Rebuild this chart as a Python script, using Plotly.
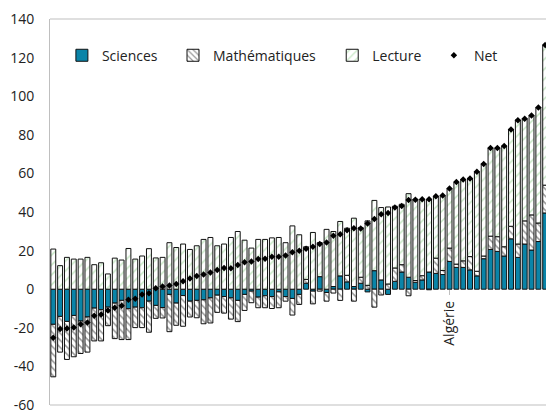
"""
Barres empilées (Sciences / Mathématiques / Lecture) + point Net, 73 pays.
"""

import plotly.graph_objects as go

# --- données ---------------------------------------------------------------
pays = list(range(1, 74))

sciences = [
    -18.2, -14.1, -16.7, -13.6, -16.5, -14.4, -9.8, -10.6, -9.3, -7.2,
    -5.8, -10.1, -9.3, -9.6, -6.2, -8.4, -9.5, -2.7, -7.2, -3.3,
    -6.2, -5.8, -5.5, -4.5, -3.1, -3.8, -4.5, -5.8, -2.7, -1.0,
    -4.1, -3.4, -3.8, -1.4, -3.8, -4.8, -2.7, 3.1, -1.0, 6.5,
    -1.7, 1.4, 6.9, 3.8, 1.4, 3.1, -1.4, 9.6, 4.8, -2.7,
    4.1, 8.9, 6.2, 3.6, 4.8, 8.9, 8.2, 7.6, 14.4, 11.3,
    11.3, 10.0, 6.9, 15.8, 20.6, 19.6, 17.2, 26.1, 16.5, 23.4,
    20.3, 24.7, 39.5,
]
mathematiques = [
    -27.2, -18.5, -19.7, -21.4, -16.8, -18.2, -17.0, -16.2, -9.6, -18.4,
    -20.3, -16.0, -10.6, -10.3, -16.1, -6.7, -5.4, -19.3, -11.5, -15.9,
    -8.2, -9.0, -12.4, -13.0, -8.9, -8.6, -11.0, -11.0, -8.3, -6.0,
    -5.5, -6.2, -6.2, -8.2, -2.4, -8.6, -5.2, 2.0, -6.6, -1.0,
    -4.5, -2.0, -5.8, 3.4, -6.2, 3.1, 2.0, -9.3, -3.0, 2.7,
    6.9, 3.8, -3.4, 0.9, 2.2, -0.3, 7.9, 2.1, 6.9, 1.7,
    3.4, 6.9, 2.4, 1.4, 6.9, 7.6, 4.8, 6.5, 6.9, 12.0,
    18.2, 9.6, 14.4,
]
lecture = [
    20.8, 12.2, 16.5, 15.6, 15.6, 16.5, 12.7, 13.7, 7.9, 16.1,
    15.1, 21.1, 15.6, 17.2, 21.0, 16.2, 16.5, 24.1, 21.6, 23.4,
    20.6, 22.5, 25.8, 26.8, 22.5, 23.4, 26.8, 29.9, 25.4, 21.3,
    25.8, 25.8, 26.6, 26.8, 24.1, 32.8, 28.2, 16.9, 29.4, 17.7,
    31.0, 28.5, 28.2, 24.4, 35.4, 25.8, 33.4, 36.4, 37.5, 39.9,
    32.0, 31.3, 43.3, 42.1, 39.5, 37.6, 32.0, 38.8, 30.9, 42.4,
    42.1, 40.5, 51.5, 47.8, 45.7, 46.0, 52.2, 50.2, 64.3, 52.9,
    51.5, 59.8, 72.5,
]
net = [
    -25.1, -20.6, -20.4, -19.9, -18.2, -17.2, -13.7, -13.1, -11.0, -9.6,
    -8.6, -5.5, -5.0, -2.7, -2.1, 0.5, 1.4, 1.9, 2.7, 4.1,
    5.5, 6.9, 7.6, 8.6, 10.0, 11.0, 10.8, 12.5, 13.9, 14.4,
    15.6, 15.8, 16.8, 16.8, 17.5, 19.2, 19.9, 20.9, 22.0, 23.4,
    24.2, 27.7, 28.5, 30.6, 31.6, 31.4, 34.0, 36.4, 38.8, 39.5,
    42.3, 43.1, 46.2, 46.4, 46.6, 46.6, 48.1, 48.5, 52.2, 55.5,
    56.9, 57.4, 60.8, 64.9, 73.2, 73.2, 74.2, 82.8, 87.6, 88.3,
    90.0, 94.2, 126.5,
]
label_pays = [59]
label_texte = ["Algérie"]
y_ticks = [-60, -40, -20, 0, 20, 40, 60, 80, 100, 120, 140]
y_labels = ["-60", "-40", "-20", "0", "20", "40", "60", "80", "100", "120", "140"]

# --- style ------------------------------------------------------------------
TEAL = "#0A84A8"
GREEN = "#8ED089"
INK = "#111111"
GRID = "#BFBFBF"
FONT = dict(family="Open Sans, Noto Sans, sans-serif", size=14, color="#222222")
BAR_LINE = dict(color=INK, width=1)

fig = go.Figure()

fig.add_trace(go.Bar(
    x=pays, y=sciences, name="Sciences", width=0.72, legend="legend",
    marker=dict(color=TEAL, line=BAR_LINE),
))
fig.add_trace(go.Bar(
    x=pays, y=mathematiques, name="Mathématiques", width=0.72, legend="legend2",
    marker=dict(color="white", line=BAR_LINE,
                pattern=dict(shape="\\", fgcolor="#333333", bgcolor="white",
                             size=5, solidity=0.3)),
))
fig.add_trace(go.Bar(
    x=pays, y=lecture, name="Lecture", width=0.72, legend="legend3",
    marker=dict(color="white", line=BAR_LINE,
                pattern=dict(shape="/", fgcolor=GREEN, bgcolor="white",
                             size=7, solidity=0.22)),
))
fig.add_trace(go.Scatter(
    x=pays, y=net, name="Net", mode="markers", legend="legend4",
    marker=dict(symbol="diamond", size=5, color="black"),
))

leg = dict(orientation="h", yanchor="middle", y=0.905, xanchor="left",
           bgcolor="rgba(0,0,0,0)", font=FONT, itemclick=False, visible=True)

fig.update_layout(
    width=546, height=414,
    showlegend=True,
    barmode="relative",
    paper_bgcolor="white", plot_bgcolor="white",
    font=FONT,
    margin=dict(l=50, r=0, t=19, b=7),
    legend={**leg, "x": 0.024},
    legend2={**leg, "x": 0.248},
    legend3={**leg, "x": 0.569},
    legend4={**leg, "x": 0.774},
    shapes=[
        dict(type="line", xref="paper", yref="paper", x0=0, x1=1, y0=1, y1=1,
             line=dict(color=GRID, width=1)),
        dict(type="line", xref="paper", yref="paper", x0=0, x1=1, y0=0, y1=0,
             line=dict(color=GRID, width=1)),
    ],
)

fig.update_xaxes(
    range=[0.52, 73.12], anchor="free", position=0.3,
    tickvals=label_pays, ticktext=label_texte, tickangle=-90,
    ticks="outside", ticklen=5, tickcolor=GRID,
    showline=False, showgrid=False, zeroline=False, tickfont=FONT,
)
fig.update_yaxes(
    range=[-60, 140], tickvals=y_ticks, ticktext=y_labels,
    showgrid=False, zeroline=False, ticklabeloverflow="allow",
    showline=True, linecolor=GRID, linewidth=1, ticks="",
    ticklabelstandoff=12, tickfont=FONT,
)

fig.write_html(
    "out.html",
    config={"displayModeBar": False},
    post_script="document.body.style.margin='0';document.body.style.overflow='hidden';",
)
